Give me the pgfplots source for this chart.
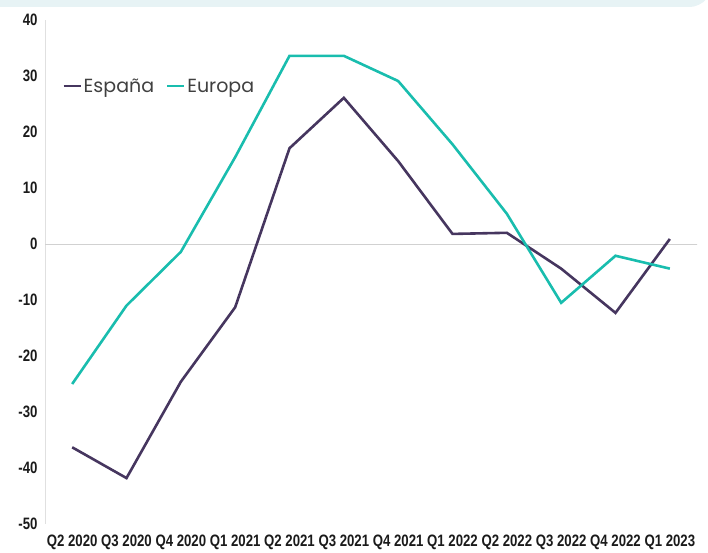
\documentclass[border=0pt]{standalone}
\usepackage{pgfplots}
\pgfplotsset{compat=1.18}
\usepackage{fontspec}
\setmainfont{Liberation Sans}
\newfontfamily\tickfont{Liberation Sans Bold}[FakeStretch=0.8]
\newfontfamily\legfont{Poppins}
\definecolor{espana}{HTML}{46365F}
\definecolor{europa}{HTML}{19BDAE}
\definecolor{band}{HTML}{E7F3F5}
\definecolor{ticktext}{HTML}{1A1A1A}

\begin{document}
\begin{tikzpicture}[x=1pt,y=1pt]
  \useasboundingbox (0,0) rectangle (708,552);
  % light panel edge at the top
  \fill[band, rounded corners=10pt] (-20,545) -- (700,545) -- (712,560) -- (-20,560) -- cycle;
  \begin{axis}[
      at={(45pt,28pt)}, anchor=south west,
      scale only axis,
      width=652pt, height=504pt,
      xmin=-0.5, xmax=11.5,
      ymin=-50, ymax=40,
      axis y line*=left, axis x line*=bottom,
      x axis line style={draw=none},
      y axis line style={draw=black!12, line width=1pt},
      major tick length=0pt,
      xtick={0,...,11},
      xticklabels={Q2 2020,Q3 2020,Q4 2020,Q1 2021,Q2 2021,Q3 2021,Q4 2021,Q1 2022,Q2 2022,Q3 2022,Q4 2022,Q1 2023},
      ytick={-50,-40,...,40},
      yticklabels={-50,-40,-30,-20,-10,0,10,20,30,40},
      ticklabel style={font=\tickfont\fontsize{16.5}{18}\selectfont, text=ticktext},
      yticklabel style={xshift=-4pt},
      xticklabel style={yshift=-7pt},
      legend style={draw=none, fill=none, at={(0.022,0.892)}, anchor=north west,
        font=\legfont\fontsize{19}{22}\selectfont, text=black!75,
        /tikz/every even column/.style={column sep=10pt}},
      legend columns=2,
      legend image code/.code={\draw[#1, line width=2.2pt] (0pt,0pt) -- (17pt,0pt);},
      legend cell align=left,
    ]
    \addplot[draw=black!18, line width=1pt, forget plot] coordinates {(-0.5,0) (11.6,0)};
    \addplot[espana, line width=2.6pt] coordinates {
      (0,-36.3) (1,-41.8) (2,-24.6) (3,-11.3) (4,17.1) (5,26.1)
      (6,14.8) (7,1.8) (8,2.0) (9,-4.4) (10,-12.3) (11,0.9)};
    \addlegendentry{España}
    \addplot[europa, line width=2.6pt] coordinates {
      (0,-25.0) (1,-11.0) (2,-1.4) (3,15.5) (4,33.6) (5,33.6)
      (6,29.1) (7,17.8) (8,5.4) (9,-10.5) (10,-2.1) (11,-4.4)};
    \addlegendentry{Europa}
  \end{axis}
\end{tikzpicture}
\end{document}
